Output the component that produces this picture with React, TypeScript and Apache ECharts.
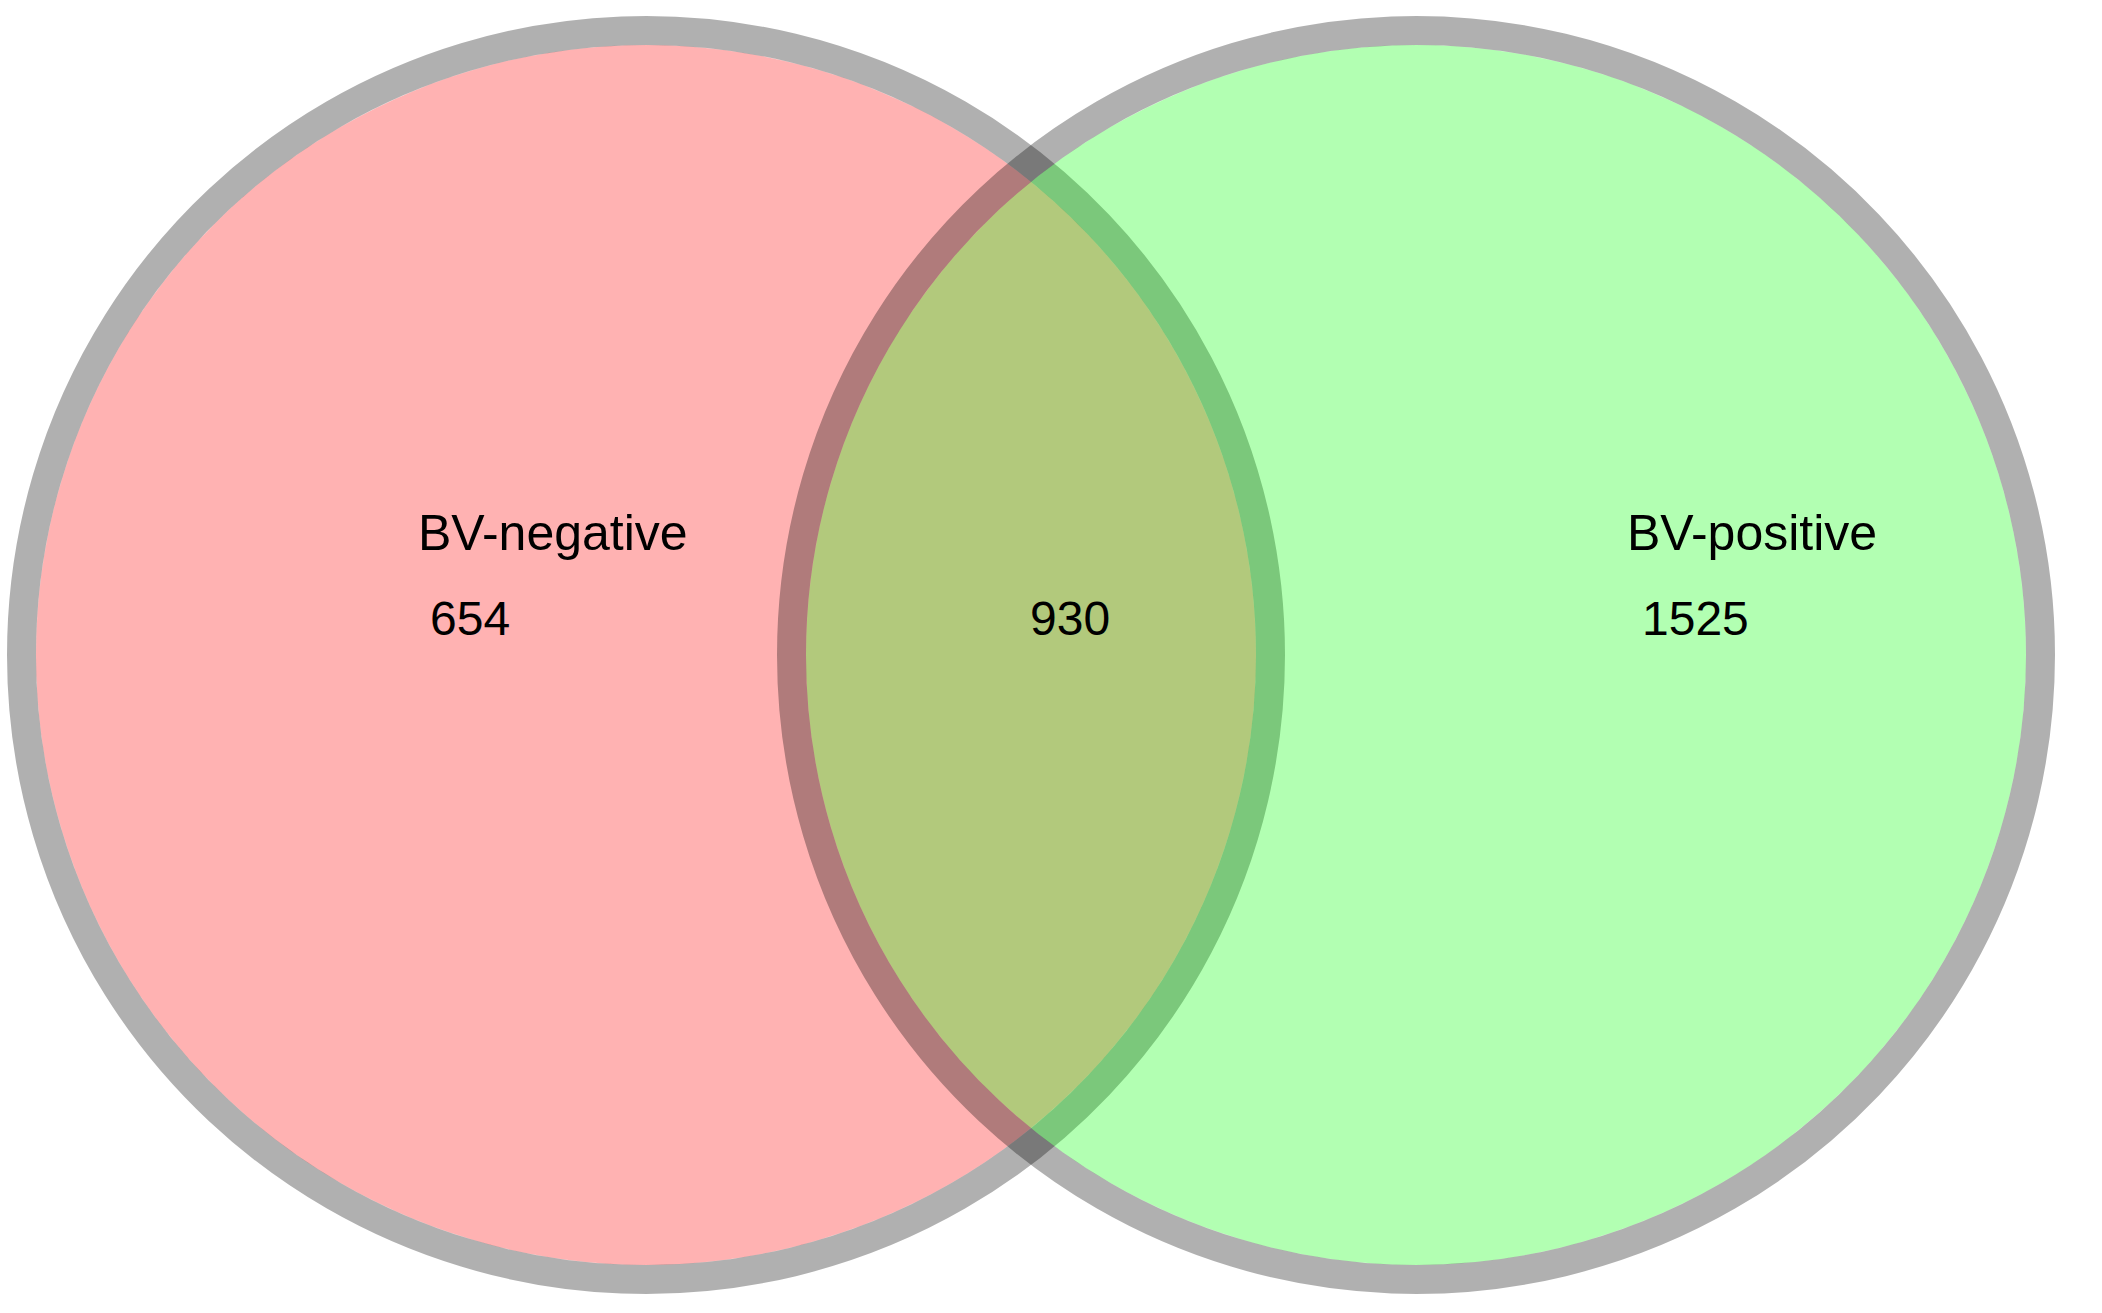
import React, { useEffect, useRef } from "react";
import * as echarts from "echarts";

// Venn data
const setLabels = ["BV-negative", "BV-positive"];
const uniqueCounts = [654, 1525];
const sharedCount = 930;

const fills = ["rgba(255,0,0,0.3)", "rgba(0,255,0,0.3)"];
const ringColor = "rgba(0,0,0,0.31)";

const App: React.FC = () => {
  const chartRef = useRef<HTMLDivElement>(null);

  useEffect(() => {
    if (!chartRef.current) return;
    const chart = echarts.init(chartRef.current, undefined, { renderer: "svg" });

    const cy = 655;
    const centers = [646, 1416];
    const rOuter = 639;
    const ringWidth = 29;
    const rFill = rOuter - ringWidth;
    const rRing = rOuter - ringWidth / 2;

    const textStyle = (text: string, size: number) => ({
      text,
      fill: "#000",
      fontSize: size,
      fontFamily: "Liberation Sans, Arial, sans-serif",
      align: "left" as const,
      verticalAlign: "middle" as const,
    });

    const circles: any[] = [];
    centers.forEach((cx, i) => {
      circles.push({
        type: "circle",
        shape: { cx, cy, r: rFill },
        style: { fill: fills[i] },
        silent: true,
      });
      circles.push({
        type: "circle",
        shape: { cx, cy, r: rRing },
        style: { fill: "none", stroke: ringColor, lineWidth: ringWidth },
        silent: true,
      });
    });

    const labelPos = [
      { x: 418, y: 533 },
      { x: 1627, y: 533 },
    ];
    const countPos = [
      { x: 430, y: 618 },
      { x: 1642, y: 618 },
    ];

    const texts: any[] = [];
    setLabels.forEach((name, i) => {
      texts.push({ type: "text", x: labelPos[i].x, y: labelPos[i].y, style: textStyle(name, 50) });
      texts.push({
        type: "text",
        x: countPos[i].x,
        y: countPos[i].y,
        style: textStyle(String(uniqueCounts[i]), 48),
      });
    });
    texts.push({ type: "text", x: 1030, y: 618, style: textStyle(String(sharedCount), 48) });

    chart.setOption({
      animation: false,
      backgroundColor: "#ffffff",
      graphic: { elements: [...circles, ...texts] },
    });

    return () => {
      chart.dispose();
    };
  }, []);

  return (
    <div
      ref={chartRef}
      style={{ position: "absolute", left: 0, top: 0, width: 2102, height: 1313 }}
    />
  );
};

export default App;
